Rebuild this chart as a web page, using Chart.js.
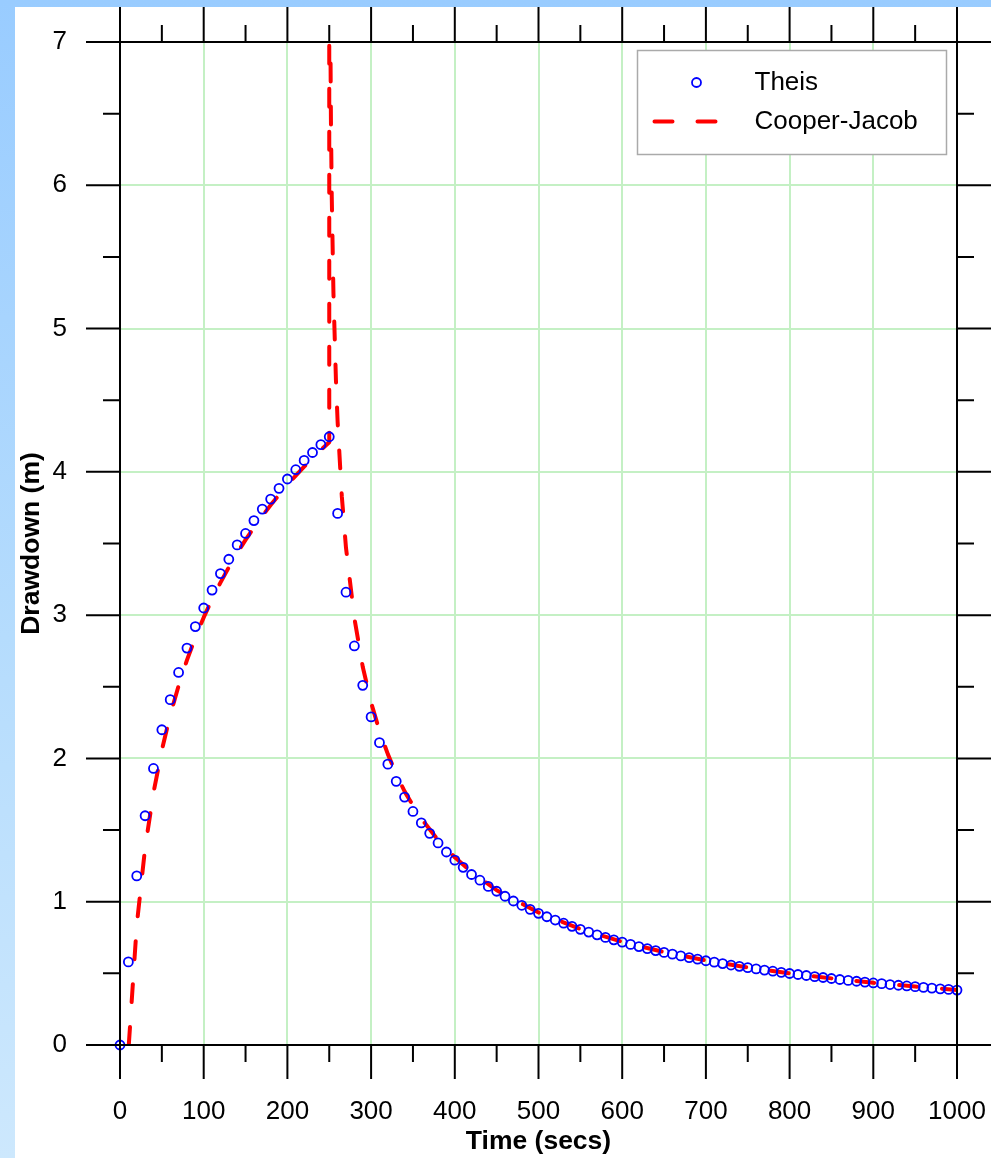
<!DOCTYPE html>
<html>
<head>
<meta charset="utf-8">
<script src="https://cdn.jsdelivr.net/npm/chart.js@4.4.1/dist/chart.umd.min.js"></script>
<style>
  html, body { margin: 0; padding: 0; }
  body { width: 991px; height: 1158px; position: relative; overflow: hidden;
         background: linear-gradient(to bottom, #99ccff 0%, #b5dcfd 55%, #cde8fd 100%); }
  #sheet { position: absolute; left: 15px; top: 7px; width: 976px; height: 1151px; background: #ffffff; }
  #c { position: absolute; left: 0; top: 0; }
</style>
</head>
<body>
<div id="sheet"></div>
<canvas id="c" width="991" height="1158"></canvas>
<script>
// ---- Data ----
const seriesNames = ['Theis', 'Cooper-Jacob'];
const axisTitles = ['Time (secs)', 'Drawdown (m)'];

const theisTime = [0, 10, 20, 30, 40, 50, 60, 70, 80, 90,
  100, 110, 120, 130, 140, 150, 160, 170, 180, 190,
  200, 210, 220, 230, 240, 250, 260, 270, 280, 290,
  300, 310, 320, 330, 340, 350, 360, 370, 380, 390,
  400, 410, 420, 430, 440, 450, 460, 470, 480, 490,
  500, 510, 520, 530, 540, 550, 560, 570, 580, 590,
  600, 610, 620, 630, 640, 650, 660, 670, 680, 690,
  700, 710, 720, 730, 740, 750, 760, 770, 780, 790,
  800, 810, 820, 830, 840, 850, 860, 870, 880, 890,
  900, 910, 920, 930, 940, 950, 960, 970, 980, 990, 1000];

const theisDrawdown = [0, 0.58, 1.18, 1.60, 1.93, 2.20, 2.41, 2.60, 2.77, 2.92,
  3.05, 3.175, 3.29, 3.39, 3.49, 3.57, 3.66, 3.74, 3.81, 3.885,
  3.95, 4.015, 4.08, 4.135, 4.19, 4.245, 3.71, 3.16, 2.785, 2.51,
  2.29, 2.11, 1.96, 1.84, 1.73, 1.63, 1.55, 1.477, 1.41, 1.347,
  1.29, 1.24, 1.19, 1.15, 1.107, 1.073, 1.038, 1.005, 0.975, 0.947,
  0.919, 0.895, 0.872, 0.85, 0.828, 0.807, 0.788, 0.769, 0.751, 0.734,
  0.718, 0.702, 0.687, 0.673, 0.659, 0.646, 0.634, 0.622, 0.61, 0.599,
  0.588, 0.578, 0.568, 0.558, 0.549, 0.54, 0.531, 0.523, 0.515, 0.507,
  0.499, 0.492, 0.485, 0.477, 0.471, 0.464, 0.457, 0.451, 0.445, 0.439,
  0.433, 0.428, 0.422, 0.417, 0.412, 0.407, 0.402, 0.397, 0.392, 0.388, 0.383];

const cjTime = [10.5, 20, 30, 40, 50, 60, 70, 80, 90, 100,
  110, 120, 130, 140, 150, 160, 170, 180, 190, 200,
  210, 220, 230, 240, 250, 250, 251, 252, 253, 255,
  258, 260, 265, 270, 280, 290, 300, 310, 320, 330,
  340, 350, 360, 380, 400, 420, 450, 500, 550, 600,
  650, 700, 750, 800, 850, 900, 950, 1000];

const cjDrawdown = [0, 0.835, 1.376, 1.76, 2.058, 2.302, 2.507, 2.686, 2.843, 2.984,
  3.111, 3.227, 3.334, 3.433, 3.525, 3.611, 3.692, 3.768, 3.84, 3.909,
  3.974, 4.036, 4.095, 4.152, 4.207, 10, 7.38, 6.46, 5.92, 5.25,
  4.64, 4.35, 3.83, 3.47, 2.98, 2.64, 2.39, 2.192, 2.03, 1.892,
  1.77, 1.672, 1.58, 1.43, 1.31, 1.207, 1.08, 0.925, 0.809, 0.72,
  0.648, 0.59, 0.541, 0.5, 0.465, 0.434, 0.408, 0.384];

const xRange = [0, 1000];
const yRange = [0, 7];

// ---- Styles ----
const FONT = "'Liberation Sans', Arial, Helvetica, sans-serif";
const GRID = 'rgb(196,240,196)';
const CLEAR = 'rgba(0,0,0,0)';
const DASH = [18, 25];

Chart.defaults.font.family = FONT;
Chart.defaults.color = '#000';

// Frame, tick marks on all four sides (major long, minor short)
const frame = {
  id: 'frame',
  afterDatasetsDraw(chart) {
    const { ctx, chartArea: a, scales: { x, y } } = chart;
    ctx.save();
    ctx.strokeStyle = '#000';
    ctx.lineWidth = 2;
    ctx.lineCap = 'butt';
    ctx.beginPath();
    ctx.rect(a.left, a.top, a.right - a.left, a.bottom - a.top);
    x.ticks.forEach(t => {
      const px = x.getPixelForValue(t.value);
      const major = t.value % 100 === 0;
      ctx.moveTo(px, a.bottom); ctx.lineTo(px, a.bottom + (major ? 34 : 17));
      ctx.moveTo(px, a.top); ctx.lineTo(px, a.top - (major ? 35 : 17));
    });
    y.ticks.forEach(t => {
      const py = y.getPixelForValue(t.value);
      const L = Number.isInteger(t.value) ? 34 : 17;
      ctx.moveTo(a.left, py); ctx.lineTo(a.left - L, py);
      ctx.moveTo(a.right, py); ctx.lineTo(a.right + L, py);
    });
    ctx.stroke();
    ctx.restore();
  }
};

// Legend box in the upper right of the plot
const boxLegend = {
  id: 'boxLegend',
  afterDraw(chart) {
    const { ctx, chartArea: a } = chart;
    const ds = chart.data.datasets;
    const right = a.right - 10.5, top = a.top + 8.5, w = 309, h = 104;
    const left = right - w;
    ctx.save();
    ctx.fillStyle = '#fff';
    ctx.strokeStyle = '#aaaaaa';
    ctx.lineWidth = 1.5;
    ctx.fillRect(left, top, w, h);
    ctx.strokeRect(left, top, w, h);
    const textX = left + 117;
    const rows = [top + 32, top + 71];
    ctx.beginPath();
    ctx.arc(left + 59, rows[0], ds[0].pointRadius, 0, Math.PI * 2);
    ctx.strokeStyle = ds[0].pointBorderColor;
    ctx.lineWidth = ds[0].pointBorderWidth;
    ctx.stroke();
    ctx.beginPath();
    ctx.setLineDash(ds[1].borderDash);
    ctx.lineCap = 'round';
    ctx.strokeStyle = ds[1].borderColor;
    ctx.lineWidth = ds[1].borderWidth;
    ctx.moveTo(left + 17, rows[1]);
    ctx.lineTo(left + 81, rows[1]);
    ctx.stroke();
    ctx.setLineDash([]);
    ctx.fillStyle = '#000';
    ctx.font = "26px " + FONT;
    ctx.textBaseline = 'middle';
    ctx.textAlign = 'left';
    ctx.fillText(ds[0].label, textX, rows[0]);
    ctx.fillText(ds[1].label, textX, rows[1]);
    ctx.restore();
  }
};

new Chart(document.getElementById('c'), {
  type: 'scatter',
  data: {
    datasets: [
      {
        label: seriesNames[0],
        data: theisTime.map((t, i) => ({ x: t, y: theisDrawdown[i] })),
        showLine: false,
        pointStyle: 'circle',
        pointRadius: 4.5,
        pointBorderWidth: 1.8,
        pointBorderColor: '#0000ff',
        pointBackgroundColor: CLEAR,
        clip: false
      },
      {
        label: seriesNames[1],
        data: cjTime.map((t, i) => ({ x: t, y: cjDrawdown[i] })),
        showLine: true,
        borderColor: '#ff0000',
        borderWidth: 4,
        borderDash: DASH,
        borderCapStyle: 'round',
        borderJoinStyle: 'round',
        pointRadius: 0,
        tension: 0,
        clip: 0
      }
    ]
  },
  options: {
    responsive: false,
    animation: false,
    devicePixelRatio: 1,
    events: [],
    layout: { padding: { left: 0, top: 42, right: 34, bottom: 0 } },
    plugins: { legend: { display: false }, tooltip: { enabled: false } },
    scales: {
      x: {
        type: 'linear',
        position: 'bottom',
        min: xRange[0], max: xRange[1],
        afterFit: s => { s.height = 113; s.paddingLeft = 0; s.paddingRight = 0; },
        border: { display: false },
        grid: {
          color: c => (c.tick && c.tick.value % 100 === 0) ? GRID : CLEAR,
          lineWidth: 2,
          tickLength: 34,
          tickColor: CLEAR
        },
        ticks: {
          stepSize: 50,
          autoSkip: false,
          maxRotation: 0,
          padding: 17,
          font: { size: 26 },
          callback: v => (v % 100 === 0 ? String(v) : '')
        },
        title: {
          display: true,
          text: axisTitles[0],
          font: { size: 26.5, weight: 'bold' },
          padding: { top: 0, bottom: 0 }
        }
      },
      y: {
        type: 'linear',
        position: 'left',
        min: yRange[0], max: yRange[1],
        afterFit: s => { s.width = 120; s.paddingTop = 0; s.paddingBottom = 0; },
        border: { display: false },
        grid: {
          color: c => (c.tick && Number.isInteger(c.tick.value)) ? GRID : CLEAR,
          lineWidth: 2,
          tickLength: 34,
          tickColor: CLEAR
        },
        ticks: {
          stepSize: 0.5,
          autoSkip: false,
          padding: 19,
          font: { size: 26 },
          callback: v => (Number.isInteger(v) ? String(v) : '')
        },
        title: {
          display: true,
          text: axisTitles[1],
          font: { size: 26.5, weight: 'bold' },
          padding: { top: 15.6, bottom: 0 }
        }
      }
    }
  },
  plugins: [frame, boxLegend]
});
</script>
</body>
</html>
